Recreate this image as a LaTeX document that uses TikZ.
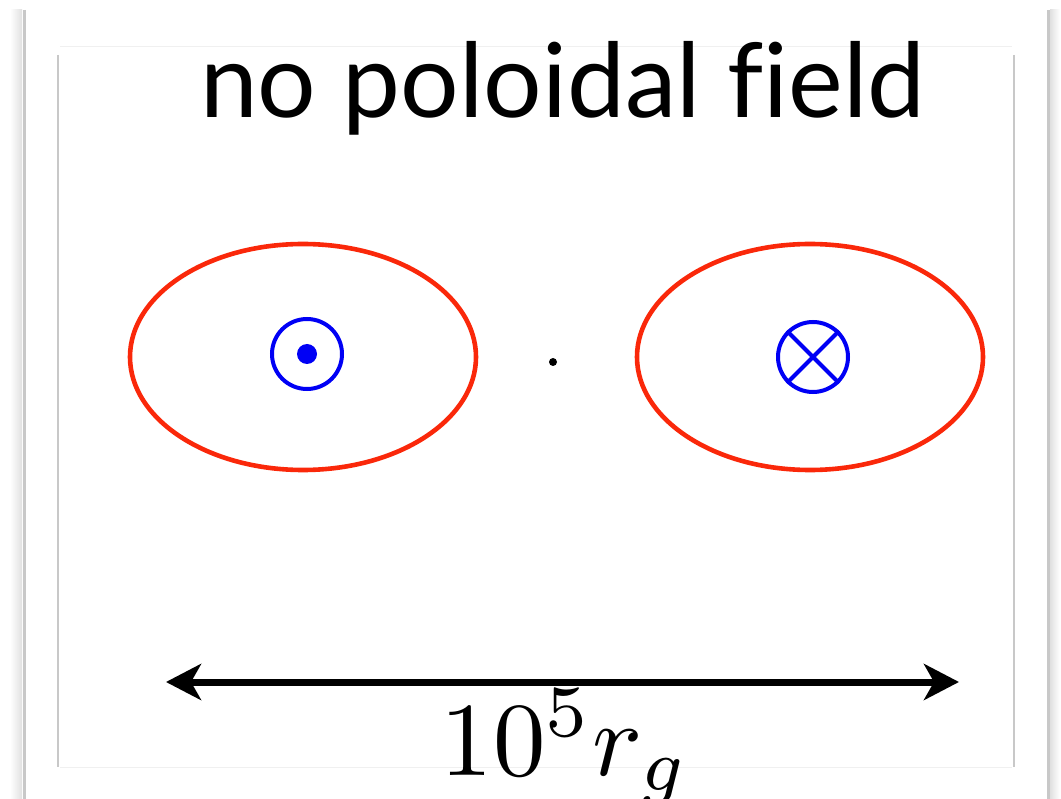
\documentclass[tikz,border=0pt]{standalone}
\usepackage{fontspec}
\usepackage{graphicx}
\newfontfamily\titlefont{Lato}
\usetikzlibrary{arrows.meta,shadings}
\definecolor{fieldred}{RGB}{250,40,10}
\definecolor{fieldblue}{RGB}{0,0,245}
\definecolor{framegray}{RGB}{200,200,200}
\definecolor{framelight}{RGB}{240,240,240}
\tikzset{
  loop/.style={draw=fieldred, line width=4.6pt},
  vec/.style={draw=fieldblue, line width=4pt},
  scalearrow/.style={line width=7pt, {Stealth[length=35pt,width=36pt,inset=10pt]}-{Stealth[length=35pt,width=36pt,inset=10pt]}},
}
\begin{document}
\begin{tikzpicture}[x=1pt,y=-1pt]
\useasboundingbox (0,0) rectangle (1061,799);
% outer frame with soft shadow
\shade[left color=white, right color=black!12] (10,10) rectangle (22,799);
\draw[framegray, line width=3pt] (24,10) -- (24,799);
\shade[left color=black!12, right color=white] (1050,10) rectangle (1060,799);
\draw[framegray, line width=3pt] (1048,10) -- (1048,799);
% inner frame
\draw[framelight, line width=1pt] (60,47) -- (1012,47);
\draw[framelight, line width=1pt] (60,767) -- (1012,767);
\draw[framegray, line width=2pt] (58,55) -- (58,767);
\draw[framegray, line width=2pt] (1014,55) -- (1014,767);
% title
\node[anchor=base west, inner sep=0pt] (title) at (200,118)
  {\resizebox{725pt}{!}{\titlefont\fontsize{100pt}{110pt}\selectfont no poloidal f\kern0pt ield}};
% toroidal loops
\draw[loop] (303,357) ellipse [x radius=173pt, y radius=113pt];
\draw[loop] (810,357) ellipse [x radius=173pt, y radius=113pt];
% out-of-page symbol
\node[circle, vec, minimum size=70pt, inner sep=0pt] (outof) at (307,354) {};
\fill[fieldblue] (outof.center) circle [radius=10pt];
% into-page symbol
\node[circle, vec, minimum size=70pt, inner sep=0pt] (into) at (813,357) {};
\draw[vec] (into.north west) -- (into.south east);
\draw[vec] (into.north east) -- (into.south west);
% centre dot
\fill (553,362) circle [radius=4pt];
% scale arrow
\coordinate (aleft) at (166,682);
\coordinate (aright) at (959,682);
\draw[scalearrow] (aleft) -- (aright);
\node[anchor=base, inner sep=0pt] (scale) at (565,775)
  {\scalebox{10.5}{$10^5r_g$}};
\end{tikzpicture}
\end{document}
